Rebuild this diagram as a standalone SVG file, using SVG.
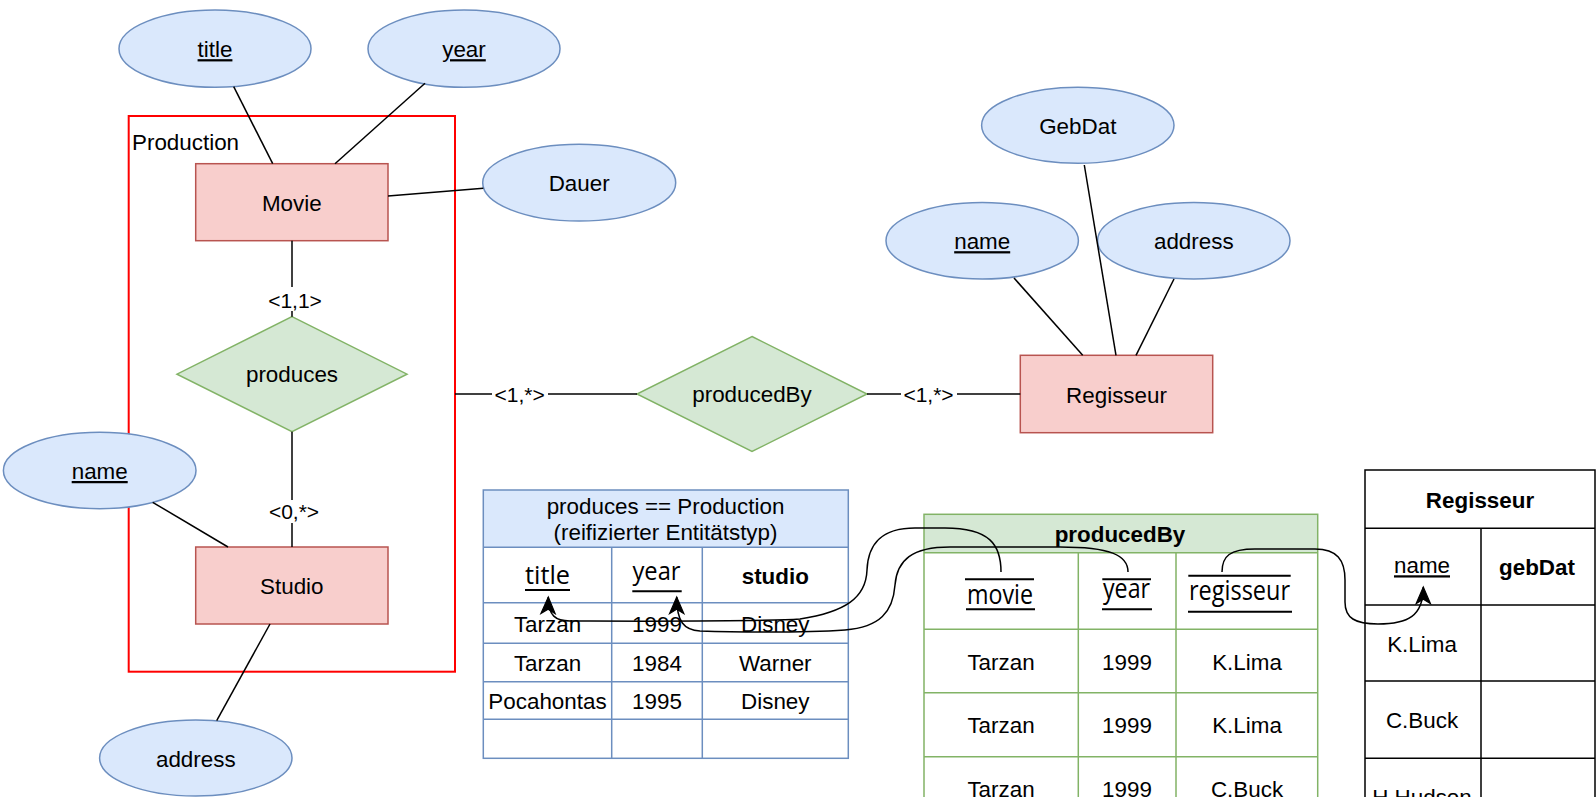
<svg xmlns="http://www.w3.org/2000/svg" width="1596" height="797" viewBox="0 0 1596 797">
<style>
.ent{fill:#f8cecc;stroke:#b85450;stroke-width:1.5}
.attr{fill:#dae8fc;stroke:#6c8ebf;stroke-width:1.5}
.rel{fill:#d5e8d4;stroke:#82b366;stroke-width:1.5}
.t{font-family:"Liberation Sans",Arial,Helvetica,sans-serif;font-size:22.4px;fill:#000;text-anchor:middle}
.lbl{font-family:"Liberation Sans",Arial,Helvetica,sans-serif;font-size:21px;fill:#000;text-anchor:middle}
.b{font-weight:bold}
.u{text-decoration:underline}
.h{font-family:"Open Sans","Noto Sans",sans-serif;fill:#000}
.ln{stroke:#000;stroke-width:1.5;fill:none}
.bar{stroke:#000;stroke-width:2}
.tb{fill:none;stroke:#6c8ebf;stroke-width:1.5}
.tg{fill:none;stroke:#82b366;stroke-width:1.5}
.tk{fill:none;stroke:#000;stroke-width:1.5}
</style>
<defs>
<marker id="arr" markerUnits="userSpaceOnUse" markerWidth="20" markerHeight="20" viewBox="-16 -8 18 16" refX="0" refY="0" orient="auto">
<path d="M0,0 L-15,-6.5 L-11,0 L-15,6.5 Z" fill="#000" stroke="#000" stroke-width="1"/>
</marker>
</defs>

<g id="production-frame">
<rect x="128.7" y="116" width="326.3" height="555.7" fill="none" stroke="#ff0000" stroke-width="2"/>
<text x="132" y="150" class="t" style="text-anchor:start">Production</text>
</g>

<g id="attr-title"><ellipse class="attr" cx="215" cy="48.7" rx="96" ry="38.6"/><text class="t u" x="215" y="57.2">title</text></g>
<g id="attr-year"><ellipse class="attr" cx="464" cy="48.7" rx="96" ry="38.6"/><text class="t u" x="464" y="57.2">year</text></g>
<g id="attr-dauer"><ellipse class="attr" cx="579.2" cy="182.7" rx="96.5" ry="38.4"/><text class="t" x="579.2" y="191.2">Dauer</text></g>
<g id="attr-studio-name"><ellipse class="attr" cx="99.7" cy="470.5" rx="96.3" ry="38.2"/><text class="t u" x="99.7" y="479">name</text></g>
<g id="attr-studio-address"><ellipse class="attr" cx="195.8" cy="758" rx="96.2" ry="38"/><text class="t" x="195.8" y="766.5">address</text></g>
<g id="attr-gebdat"><ellipse class="attr" cx="1077.8" cy="125.3" rx="96.2" ry="38"/><text class="t" x="1077.8" y="133.6">GebDat</text></g>
<g id="attr-reg-name"><ellipse class="attr" cx="982.2" cy="240.7" rx="96.2" ry="38.3"/><text class="t u" x="982.2" y="249.2">name</text></g>
<g id="attr-reg-address"><ellipse class="attr" cx="1193.8" cy="240.7" rx="96.2" ry="38.3"/><text class="t" x="1193.8" y="249.2">address</text></g>

<g id="movie"><rect class="ent" x="195.7" y="163.7" width="192.3" height="77"/><text class="t" x="291.8" y="210.7">Movie</text></g>
<g id="studio"><rect class="ent" x="195.7" y="547" width="192.3" height="77"/><text class="t" x="291.8" y="593.5">Studio</text></g>
<g id="regisseur"><rect class="ent" x="1020.3" y="355.3" width="192.4" height="77.4"/><text class="t" x="1116.5" y="402.6">Regisseur</text></g>

<g id="produces"><polygon class="rel" points="292,316.7 407,374.2 292,431.7 177,374.2"/><text class="t" x="292" y="382.4">produces</text></g>
<g id="producedBy"><polygon class="rel" points="752,336.5 867,394 752,451.5 637,394"/><text class="t" x="752" y="402.2">producedBy</text></g>

<g id="table-produces">
<rect x="483.3" y="490" width="365" height="57.3" fill="#dae8fc"/>
<rect class="tb" x="483.3" y="490" width="365" height="268.3"/>
<path class="tb" d="M483.3,547.3H848.3M483.3,602.7H848.3M483.3,643.3H848.3M483.3,681.7H848.3M483.3,719.3H848.3M611.7,547.3V758.3M702.3,547.3V758.3"/>
<text class="t" x="665.5" y="514">produces == Production</text>
<text class="t" x="665.5" y="540">(reifizierter Entitätstyp)</text>
<text class="h" x="525" y="584.3" font-size="25" textLength="45" lengthAdjust="spacingAndGlyphs">title</text>
<line class="bar" x1="525" y1="590" x2="570" y2="590"/>
<text class="h" x="632.5" y="580" font-size="26" textLength="48" lengthAdjust="spacingAndGlyphs">year</text>
<line class="bar" x1="632.3" y1="591.3" x2="681.7" y2="591.3"/>
<text class="t b" x="775.3" y="584.3">studio</text>
<text class="t" x="547.5" y="631.7">Tarzan</text><text class="t" x="657" y="631.7">1999</text><text class="t" x="775.3" y="631.7">Disney</text>
<text class="t" x="547.5" y="670.5">Tarzan</text><text class="t" x="657" y="670.5">1984</text><text class="t" x="775.3" y="670.5">Warner</text>
<text class="t" x="547.5" y="709">Pocahontas</text><text class="t" x="657" y="709">1995</text><text class="t" x="775.3" y="709">Disney</text>
</g>

<g id="table-producedBy">
<rect x="924" y="514.3" width="393.7" height="38.4" fill="#d5e8d4"/>
<rect class="tg" x="924" y="514.3" width="393.7" height="320"/>
<path class="tg" d="M924,552.7H1317.7M924,629.3H1317.7M924,692.7H1317.7M924,756.7H1317.7M1078.3,552.7V834.3M1176,552.7V834.3"/>
<text class="t b" x="1120" y="542">producedBy</text>
<line class="bar" x1="965" y1="579.3" x2="1034" y2="579.3"/>
<text class="h" x="967" y="604" font-size="27" textLength="66" lengthAdjust="spacingAndGlyphs">movie</text>
<line class="bar" x1="966" y1="609.3" x2="1035" y2="609.3"/>
<line class="bar" x1="1102.3" y1="579.3" x2="1151" y2="579.3"/>
<text class="h" x="1103" y="598.3" font-size="27" textLength="47" lengthAdjust="spacingAndGlyphs">year</text>
<line class="bar" x1="1102" y1="609.3" x2="1152" y2="609.3"/>
<line class="bar" x1="1188.3" y1="575.7" x2="1290.7" y2="575.7"/>
<text class="h" x="1189" y="600" font-size="27" textLength="101" lengthAdjust="spacingAndGlyphs">regisseur</text>
<line class="bar" x1="1188" y1="611.7" x2="1292" y2="611.7"/>
<text class="t" x="1001" y="670">Tarzan</text><text class="t" x="1127" y="670">1999</text><text class="t" x="1247" y="670">K.Lima</text>
<text class="t" x="1001" y="733.3">Tarzan</text><text class="t" x="1127" y="733.3">1999</text><text class="t" x="1247" y="733.3">K.Lima</text>
<text class="t" x="1001" y="797">Tarzan</text><text class="t" x="1127" y="797">1999</text><text class="t" x="1247" y="797">C.Buck</text>
</g>

<g id="table-regisseur">
<rect class="tk" x="1365" y="470" width="230" height="380"/>
<path class="tk" d="M1365,528.3H1595M1365,605H1595M1365,681H1595M1365,758.3H1595M1481,528.3V850"/>
<text class="t b" x="1480" y="508.3">Regisseur</text>
<text class="t u" x="1422" y="573.3">name</text>
<text class="t b" x="1537" y="575">gebDat</text>
<text class="t" x="1422" y="651.7">K.Lima</text>
<text class="t" x="1422" y="728.3">C.Buck</text>
<text class="t" x="1422" y="805">H.Hudson</text>
</g>

<g id="connectors">
<path class="ln" d="M233.7,86.7L272.7,163.7"/>
<path class="ln" d="M425,83.3L335,163.7"/>
<path class="ln" d="M388,196L483.3,188.3"/>
<path class="ln" d="M292,240.7V316.7"/>
<path class="ln" d="M292,431.7V547"/>
<path class="ln" d="M152.7,502.3L228,547"/>
<path class="ln" d="M270,624L216.7,720.7"/>
<path class="ln" d="M455,394H637"/>
<path class="ln" d="M867,394H1020.3"/>
<path class="ln" d="M1014,278L1082.7,355.3"/>
<path class="ln" d="M1084.3,165L1116,355.3"/>
<path class="ln" d="M1174,279L1136,355.3"/>
<g id="card-labels">
<rect x="266" y="287" width="58" height="24" fill="#fff"/><text class="lbl" x="295" y="307.5">&lt;1,1&gt;</text>
<rect x="266" y="500" width="56" height="23" fill="#fff"/><text class="lbl" x="294" y="519">&lt;0,*&gt;</text>
<rect x="492" y="383" width="56" height="22" fill="#fff"/><text class="lbl" x="519.7" y="401.5">&lt;1,*&gt;</text>
<rect x="901" y="383" width="56" height="22" fill="#fff"/><text class="lbl" x="928.5" y="401.5">&lt;1,*&gt;</text>
</g>
<path class="ln" marker-end="url(#arr)" d="M1001,572 C1001,545 990,528 945,528 L915,528 C880,528 868,545 867,570 C866,598 845,612 800,619 C760,622 600,621 570,621 C556,621 548,616 548.3,597"/>
<path class="ln" marker-end="url(#arr)" d="M1128,572 C1128,555 1110,547 1060,547 L950,547 C912,547 897,560 895,585 C893,612 880,627 845,630 C800,633 730,632 700,631 C684,630 676.7,622 676.7,597"/>
<path class="ln" marker-end="url(#arr)" d="M1222,572 C1222,556 1230,549 1255,549 L1315,549 C1337,549 1345,560 1345,580 L1345,602 C1345,618 1355,624 1378,624 C1408,624 1423.3,616 1423.3,587"/>
</g>
</svg>
